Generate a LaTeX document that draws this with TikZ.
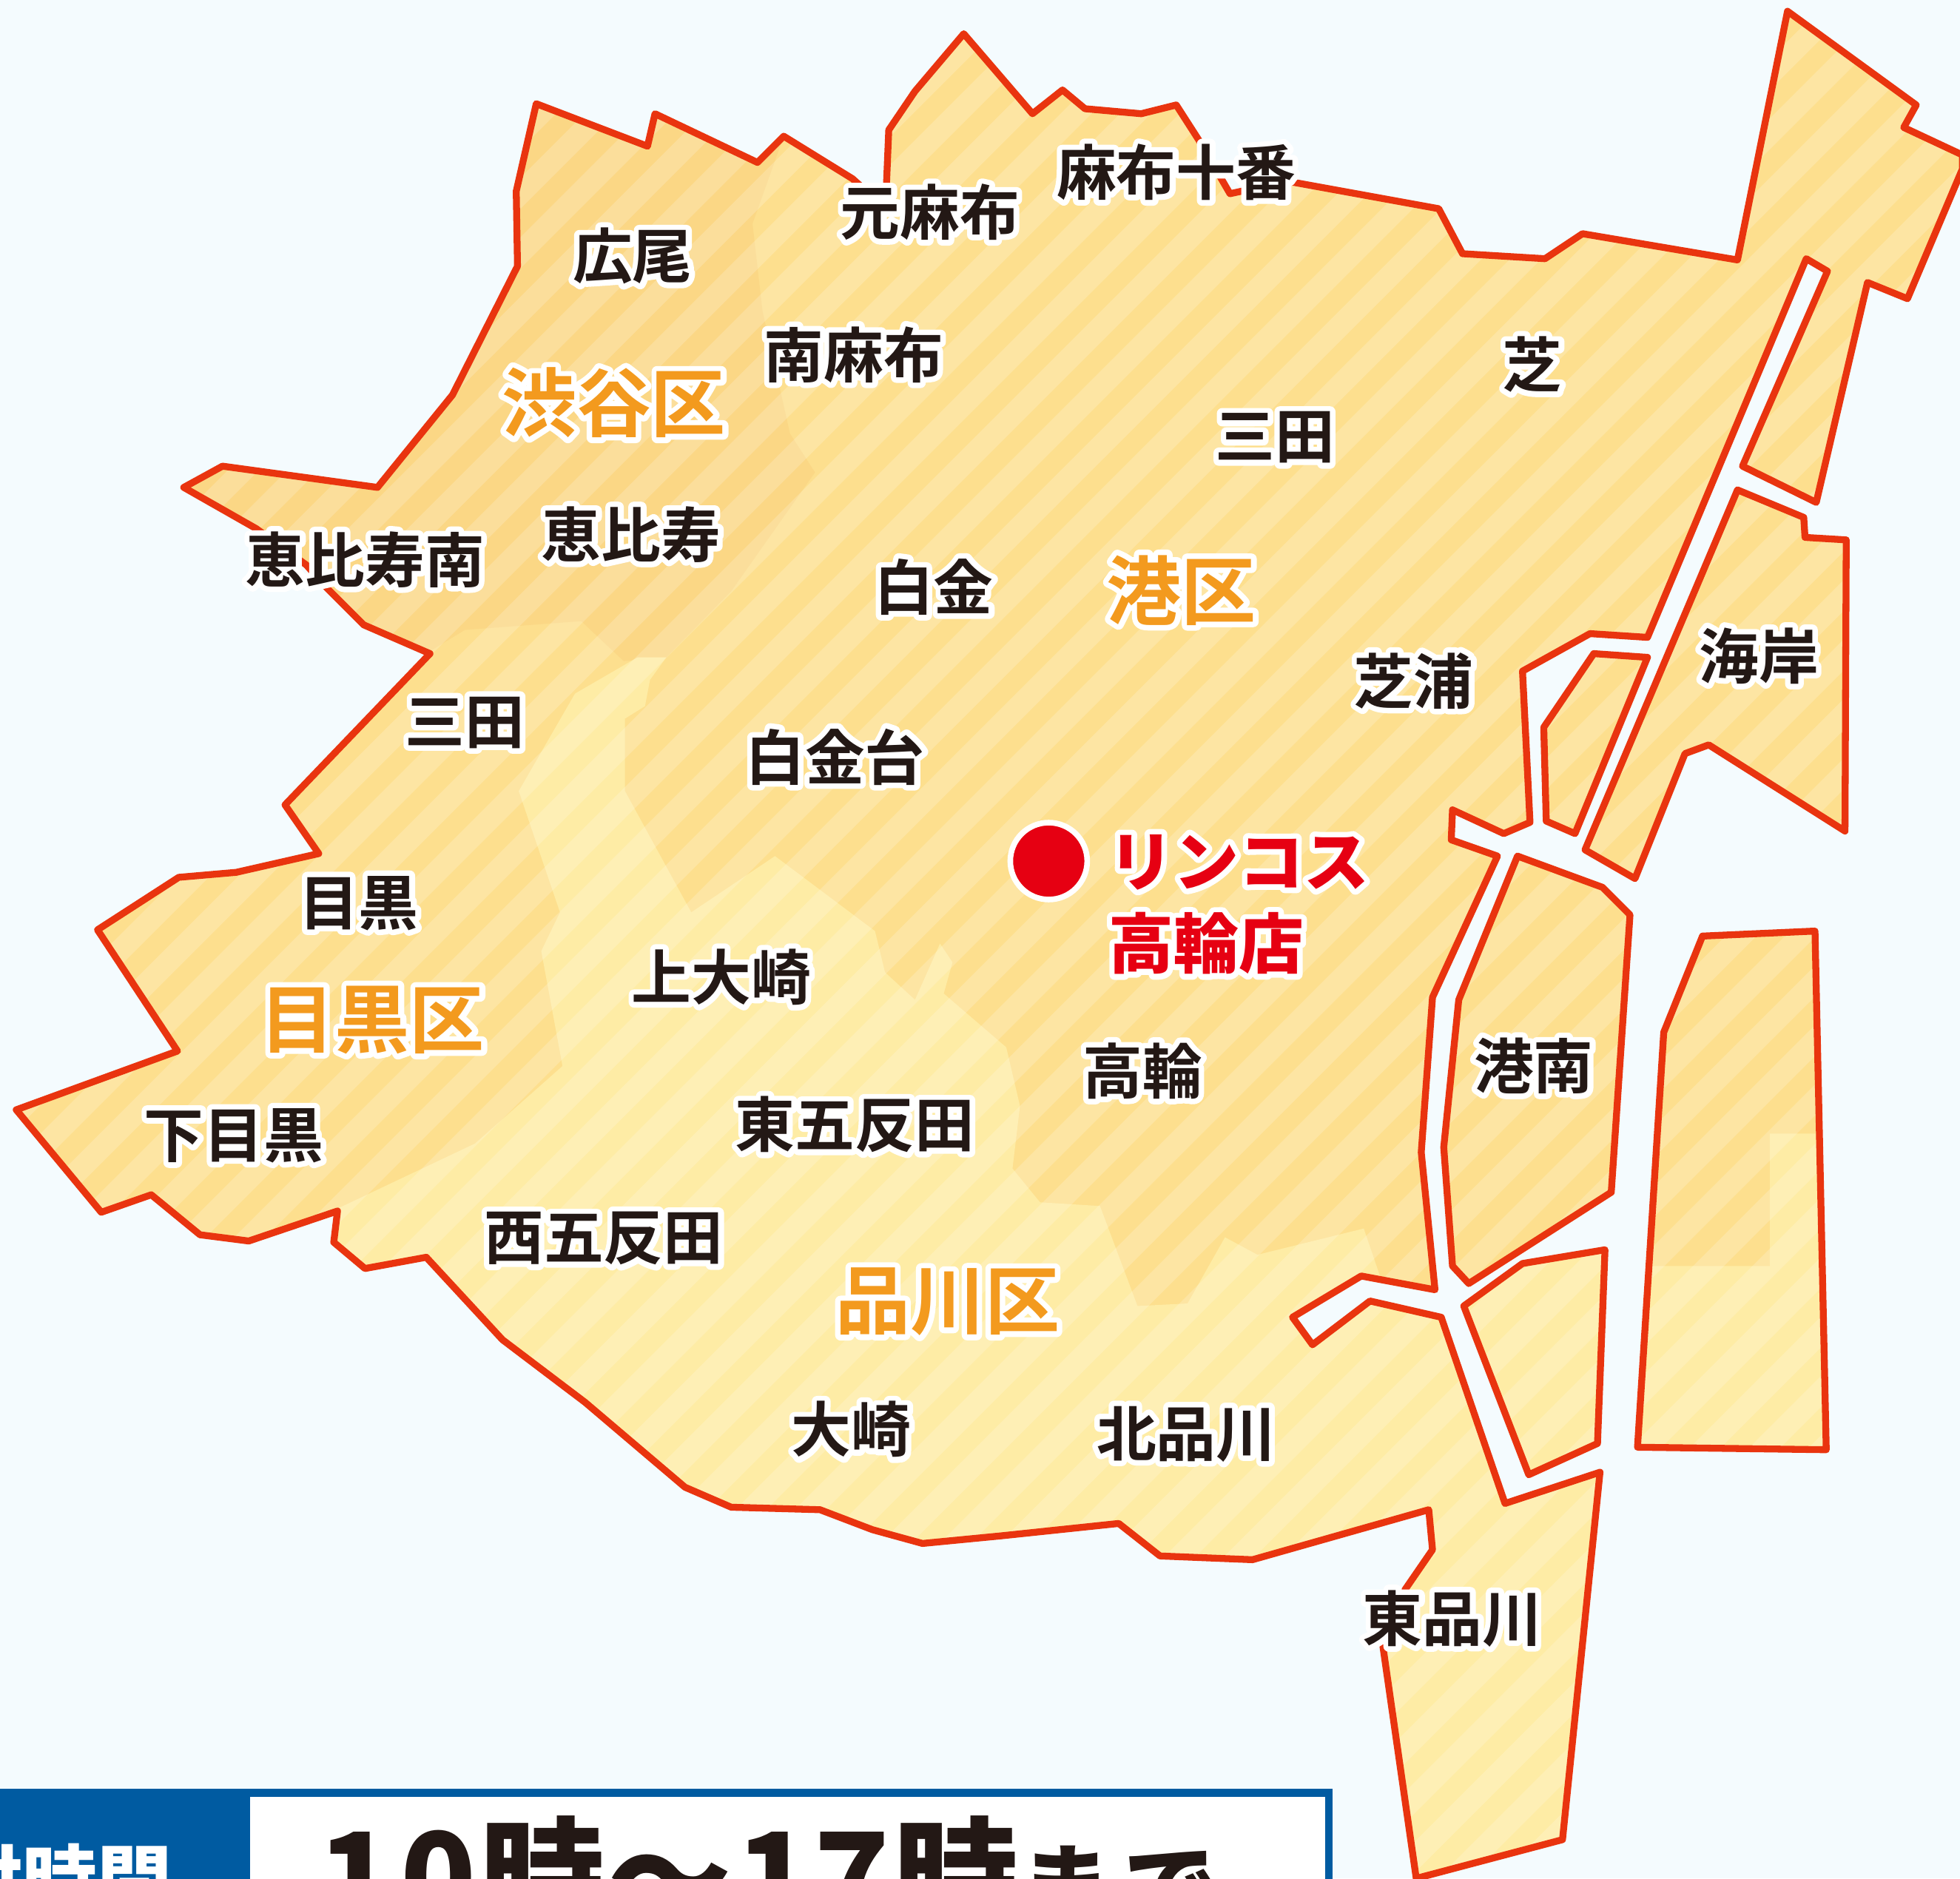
\documentclass[tikz,border=0pt]{standalone}
\usepackage{fontspec}
\setmainfont{Noto Sans CJK JP}[BoldFont=Noto Sans CJK JP Bold]
\newfontfamily\heavyfont{Noto Sans CJK JP Black}
\definecolor{seabg}{HTML}{F4FBFE}
\definecolor{minatofill}{HTML}{FDDF8E}
\definecolor{shibuyafill}{HTML}{FBD785}
\definecolor{shinagawafill}{HTML}{FEECA5}
\definecolor{borderred}{HTML}{E9340F}
\definecolor{wardorange}{HTML}{F39A1E}
\definecolor{shopred}{HTML}{E60012}
\definecolor{inkblack}{HTML}{231815}
\definecolor{barblue}{HTML}{005BA1}
\newcommand{\halo}[1]{\leavevmode\rlap{\special{pdf:code q 1 Tr 1 1 1 RG 1 1 1 rg 2.5 w 1 j 1 J}#1\special{pdf:code Q}}#1}
\newcommand{\allareas}{
(429,83) -- (518,117) -- (524,91) -- (606,130) -- (627,109) -- (682,143) -- (692,152) -- (709,152) -- (711,104) -- (732,73) -- (771,27) -- (826,91) -- (850,72) -- (868,87) -- (913,91) -- (941,84) -- (959,112) -- (984,155) -- (1030,145) -- (1151,167) -- (1170,203) -- (1236,207) -- (1266,187) -- (1390,208) -- (1430,9) -- (1533,84) -- (1523,102) -- (1570,124) -- (1570,135) -- (1526,239) -- (1494,226) -- (1453,402) -- (1394,373) -- (1462,217) -- (1445,207) -- (1318,510) -- (1272,507) -- (1218,537) -- (1224,658) -- (1203,667) -- (1162,648) -- (1161,672) -- (1198,685) -- (1146,798) -- (1137,922) -- (1148,1032) -- (1089,1021) -- (1034,1054) -- (1050,1076) -- (1096,1041) -- (1153,1054) -- (1204,1203) -- (1280,1178) -- (1250,1472) -- (1133,1503) -- (1106,1315) -- (1124,1272) -- (1146,1240) -- (1143,1208) -- (1002,1248) -- (928,1245) -- (895,1219) -- (800,1229) -- (738,1235) -- (698,1224) -- (656,1208) -- (585,1206) -- (548,1190) -- (468,1122) -- (402,1072) -- (341,1006) -- (292,1015) -- (267,994) -- (270,969) -- (199,993) -- (160,988) -- (121,956) -- (81,970) -- (13,888) -- (142,841) -- (78,744) -- (143,702) -- (189,698) -- (255,683) -- (228,644) -- (344,523) -- (291,500) -- (262,471) -- (245,452) -- (205,423) -- (147,390) -- (178,373) -- (302,390) -- (362,316) -- (414,213) -- (413,153) -- cycle
(1390,392) -- (1443,414) -- (1444,430) -- (1477,432) -- (1476,665) -- (1367,596) -- (1348,603) -- (1308,703) -- (1268,680) -- cycle
(1275,523) -- (1318,526) -- (1260,667) -- (1237,657) -- (1235,582) -- cycle
(1214,685) -- (1282,710) -- (1304,732) -- (1289,954) -- (1175,1027) -- (1162,1013) -- (1155,918) -- (1167,800) -- cycle
(1171,1045) -- (1218,1011) -- (1284,1000) -- (1278,1155) -- (1223,1180) -- cycle
(1362,749) -- (1452,745) -- (1461,1160) -- (1310,1158) -- (1331,826) -- cycle
}
\begin{document}
\begin{tikzpicture}[x=0.01cm,y=-0.01cm]
\tikzset{
border/.style={draw=borderred,line width=0.055cm,line join=round},
stripe/.style={fill=white,opacity=0.19},
place/.style={font=\bfseries\fontsize{13.6}{13.6}\selectfont,text=inkblack,inner sep=0pt,text height=11.9pt,text depth=1.7pt},
ward/.style={font=\bfseries\fontsize{17}{17}\selectfont,text=wardorange,inner sep=0pt,text height=15pt,text depth=2pt},
shop/.style={font=\heavyfont\fontsize{14.8}{14.8}\selectfont,text=shopred,inner sep=0pt,text height=13pt,text depth=1.8pt},
}
\useasboundingbox (0,0) rectangle (1568,1503);
\fill[seabg] (0,0) rectangle (1568,1503);
% map areas
\begin{scope}
\clip \allareas;
\fill[minatofill] (0,0) rectangle (1568,1503);
\fill[shibuyafill] (627,109) -- (602,179) -- (610,249) -- (632,347) -- (652,378) -- (585,473) -- (533,526) -- (499,529) -- (465,497) -- (372,504) -- (344,521) -- (100,421) -- (100,0) -- (627,0) -- cycle;
\fill[shinagawafill] (533,526) -- (510,526) -- (460,555) -- (415,633) -- (448,730) -- (433,761) -- (450,853) -- (380,915) -- (285,960) -- (200,1000) -- (200,1503) -- (1330,1503) -- (1300,1170) -- (1300,980) -- (1160,1040) -- (1105,1024) -- (1091,983) -- (1006,1004) -- (980,990) -- (950,1043) -- (910,1045) -- (880,965) -- (832,962) -- (810,935) -- (816,885) -- (805,838) -- (755,795) -- (762,770) -- (752,755) -- (732,800) -- (708,778) -- (700,745) -- (620,685) -- (553,730) -- (500,633) -- (500,575) -- (516,565) -- (520,544) -- cycle;
\fill[shinagawafill] (1416,907) -- (1470,907) -- (1470,1170) -- (1300,1170) -- (1300,1013) -- (1416,1013) -- cycle;
\foreach \c in {0,1,...,70}
  \fill[stripe] ({35+47.6*\c},0) -- ({35+47.6*\c+24.8},0) -- ({35+47.6*\c+24.8-1600},1600) -- ({35+47.6*\c-1600},1600) -- cycle;
\end{scope}
\draw[border] \allareas;
% shop mark
\node[circle,fill=shopred,draw=white,line width=0.045cm,minimum size=0.615cm,inner sep=0pt] (linkos) at (839,689) {};
% labels
\node[shop] (linkosname) at (991,689) {\halo{リンコス}};
\node[shop] (takanawashop) at (965,755) {\halo{高輪店}};
\node[ward] (shibuyaku) at (491,322) {\halo{渋谷区}};
\node[ward] (minatoku) at (945,472) {\halo{港区}};
\node[ward] (meguroku) at (298,815) {\halo{目黒区}};
\node[ward] (shinagawaku) at (758,1040) {\halo{品川区}};
\node[place] (hiroo) at (506,205) {\halo{広尾}};
\node[place] (motoazabu) at (744,170) {\halo{元麻布}};
\node[place] (azabujuban) at (941,138) {\halo{麻布十番}};
\node[place] (minamiazabu) at (683,284) {\halo{南麻布}};
\node[place] (shiba) at (1226,292) {\halo{芝}};
\node[place] (mita) at (1020,349) {\halo{三田}};
\node[place] (ebisu) at (505,428) {\halo{恵比寿}};
\node[place] (ebisuminami) at (292,448) {\halo{恵比寿南}};
\node[place] (shirokane) at (747,470) {\halo{白金}};
\node[place] (shibaura) at (1131,545) {\halo{芝浦}};
\node[place] (kaigan) at (1407,525) {\halo{海岸}};
\node[place] (mitameguro) at (372,577) {\halo{三田}};
\node[place] (shirokanedai) at (668,606) {\halo{白金台}};
\node[place] (meguro) at (287,722) {\halo{目黒}};
\node[place] (kamiosaki) at (577,782) {\halo{上大崎}};
\node[place] (takanawa) at (914,857) {\halo{高輪}};
\node[place] (konan) at (1227,853) {\halo{港南}};
\node[place] (higashigotanda) at (684,900) {\halo{東五反田}};
\node[place] (shimomeguro) at (187,908) {\halo{下目黒}};
\node[place] (nishigotanda) at (483,990) {\halo{西五反田}};
\node[place] (osaki) at (681,1144) {\halo{大崎}};
\node[place] (kitashinagawa) at (949,1147) {\halo{北品川}};
\node[place] (higashishinagawa) at (1162,1295) {\halo{東品川}};
% hours bar
\fill[barblue] (0,1431) rectangle (1066,1510);
\fill[white] (200,1438) rectangle (1060,1510);
\begin{scope}
\clip (0,1431) rectangle (1066,1510);
\node[anchor=base west,inner sep=0pt,text=white,font=\heavyfont\fontsize{17}{17}\selectfont] (hourshead) at (-102,1526) {受付時間};
\node[anchor=base west,inner sep=0pt,text=inkblack,font=\heavyfont\fontsize{28.3}{28.3}\selectfont] (hourstext) at (254,1538) {1\kern1.5pt 0\kern1pt 時\kern0.5pt ～\kern1pt 1\kern0.5pt 7\kern1pt 時{\fontsize{21.3}{21.3}\selectfont ま\kern2.5pt で}};
\end{scope}
\end{tikzpicture}
\end{document}
